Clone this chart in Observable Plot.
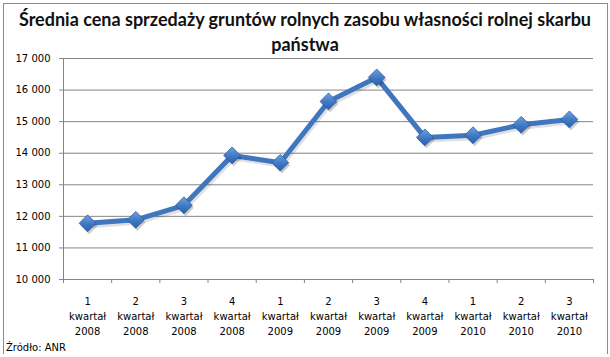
<!DOCTYPE html>
<html><head><meta charset="utf-8">
<script src="https://cdn.jsdelivr.net/npm/d3@7"></script>
<script src="https://cdn.jsdelivr.net/npm/@observablehq/plot@0.6"></script>
<style>
body{margin:0;background:#fff;}
#wrap{position:relative;width:610px;height:357px;overflow:hidden;background:#fff;}
#frame{position:absolute;left:3px;top:3px;width:603px;height:350px;border:1px solid #8c8c8c;border-bottom:none;}
#title{position:absolute;left:0;top:7px;width:610px;text-align:center;font-family:Lato,"Open Sans",sans-serif;font-weight:700;font-size:18px;line-height:25px;color:#111;}
#chart{position:absolute;left:0;top:0;}
#caption{position:absolute;left:6px;top:342px;font-family:"DejaVu Sans",Verdana,sans-serif;font-size:10px;color:#000;}
</style>
</head><body>
<div id="wrap">
  <div id="frame"></div>
  <div id="chart"></div>
  <div id="title">Średnia cena sprzedaży gruntów rolnych zasobu własności rolnej skarbu<br>państwa</div>
  <div id="caption">Źródło: ANR</div>
</div>
<script>
const quarters = ["1","2","3","4","1","2","3","4","1","2","3"];
const years = ["2008","2008","2008","2008","2009","2009","2009","2009","2010","2010","2010"];
const prices = [11780, 11890, 12350, 13930, 13700, 15640, 16400, 14500, 14570, 14900, 15070];
const yTicks = [10000, 11000, 12000, 13000, 14000, 15000, 16000, 17000];

const data = prices.map((v, i) => ({i: i + 0.5, v, label: quarters[i] + "\nkwartał\n" + years[i]}));
const bounds = d3.range(quarters.length + 1);
const fmt = d => d3.format(",")(d).replace(",", " ");

const plot = Plot.plot({
  width: 610,
  height: 345,
  marginLeft: 63,
  marginRight: 17,
  marginTop: 58,
  marginBottom: 66,
  style: {fontFamily: "'DejaVu Sans', Verdana, sans-serif", fontSize: "10px", color: "#000", background: "transparent"},
  x: {domain: [0, quarters.length]},
  y: {domain: [10000, 17000]},
  marks: [
    Plot.ruleY(yTicks, {stroke: "#868686", strokeWidth: 1}),
    Plot.ruleX([0], {y1: 10000, y2: 17000, stroke: "#868686"}),
    Plot.axisY({ticks: yTicks, tickSize: 4, tickPadding: 9, tickFormat: fmt, stroke: "#868686", fill: "#000", label: null}),
    Plot.axisX({ticks: bounds, tickSize: 4, tickFormat: () => "", stroke: "#868686", label: null}),
    Plot.text(data, {x: "i", y: () => 10000, text: "label", lineAnchor: "top", dy: 15, lineHeight: 1.5, fill: "#000"}),
    Plot.line(data, {x: "i", y: "v", stroke: "#000", strokeOpacity: 0.12, strokeWidth: 5, dx: 1.5, dy: 2.5}),
    Plot.line(data, {x: "i", y: "v", stroke: "#3f76bf", strokeWidth: 5}),
    Plot.dot(data, {x: "i", y: "v", symbol: "diamond2", r: 7.6, fill: "#000", fillOpacity: 0.2, dx: 1.5, dy: 2.5}),
    Plot.dot(data, {x: "i", y: "v", symbol: "diamond2", r: 7.6, fill: "url(#dgrad)", stroke: "#2c5d9e", strokeWidth: 0.8})
  ]
});

const svg = d3.select(plot);
const defs = svg.insert("defs", ":first-child");
const g = defs.append("linearGradient").attr("id", "dgrad").attr("x1", 0).attr("y1", 0).attr("x2", 0).attr("y2", 1);
g.append("stop").attr("offset", "0%").attr("stop-color", "#6fa1dd");
g.append("stop").attr("offset", "55%").attr("stop-color", "#3e78c4");
g.append("stop").attr("offset", "100%").attr("stop-color", "#2a62ab");

document.getElementById("chart").appendChild(plot);
</script>
</body></html>
